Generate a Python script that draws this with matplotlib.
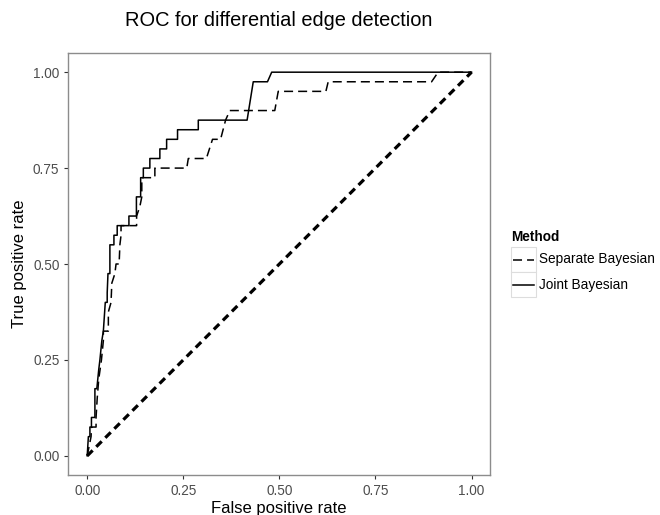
#!/usr/bin/env python3
"""ROC curves for differential edge detection (separate vs joint Bayesian)."""

import matplotlib

matplotlib.use("Agg")
import matplotlib.pyplot as plt
from matplotlib.lines import Line2D
from matplotlib.patches import Rectangle


# Separate Bayesian ROC
separate_fpr = [0, 0.005, 0.01, 0.011, 0.023, 0.023, 0.026, 0.03, 0.037, 0.042, 0.042,
                0.055, 0.055, 0.062, 0.064, 0.072, 0.075, 0.083, 0.085, 0.088, 0.088,
                0.1285, 0.1285, 0.137, 0.142, 0.142, 0.176, 0.176, 0.259, 0.263, 0.31,
                0.326, 0.347, 0.36, 0.371, 0.488, 0.497, 0.621, 0.627, 0.896, 0.913, 1.0]
separate_tpr = [0, 0.025, 0.05, 0.075, 0.075, 0.1, 0.15, 0.2, 0.25, 0.3, 0.325,
                0.325, 0.375, 0.4, 0.45, 0.475, 0.5, 0.5, 0.55, 0.575, 0.6,
                0.6, 0.625, 0.65, 0.675, 0.725, 0.725, 0.75, 0.75, 0.775, 0.775,
                0.825, 0.825, 0.875, 0.9, 0.9, 0.95, 0.95, 0.975, 0.975, 1.0, 1.0]

# Joint Bayesian ROC
joint_fpr = [0, 0.003, 0.007, 0.007, 0.011, 0.011, 0.02, 0.02, 0.025, 0.03, 0.033,
             0.038, 0.042, 0.047, 0.052, 0.052, 0.054, 0.059, 0.059, 0.0695, 0.0695,
             0.078, 0.078, 0.1085, 0.1085, 0.128, 0.128, 0.139, 0.139, 0.146, 0.146,
             0.163, 0.163, 0.189, 0.189, 0.2066, 0.2066, 0.235, 0.235, 0.289, 0.289,
             0.416, 0.432, 0.469, 0.48, 1.0]
joint_tpr = [0, 0.05, 0.05, 0.075, 0.075, 0.1, 0.1, 0.175, 0.175, 0.225, 0.25,
             0.3, 0.325, 0.4, 0.4, 0.425, 0.475, 0.475, 0.55, 0.55, 0.575,
             0.575, 0.6, 0.6, 0.625, 0.625, 0.675, 0.675, 0.725, 0.725, 0.75,
             0.75, 0.775, 0.775, 0.8, 0.8, 0.825, 0.825, 0.85, 0.85, 0.875,
             0.875, 0.975, 0.975, 1.0, 1.0]

chance_x = [0, 1]
chance_y = [0, 1]

ticks = [0.0, 0.25, 0.5, 0.75, 1.0]
tick_labels = ["0.00", "0.25", "0.50", "0.75", "1.00"]
methods = ["Separate Bayesian", "Joint Bayesian"]


def main() -> None:
    plt.rcParams.update(
        {
            "font.family": ["Liberation Sans", "DejaVu Sans"],
            "font.size": 9.6,
            "xtick.direction": "out",
            "ytick.direction": "out",
        }
    )
    W, H = 660, 515
    fig = plt.figure(figsize=(W / 100, H / 100), dpi=100)
    ax = fig.add_axes([68 / W, 1 - 475 / H, 422 / W, 422 / H])

    dash_curve = (0, (5.9, 3.3))
    dash_diag = (0, (2.4, 1.6))

    ax.plot(chance_x, chance_y, color="black", lw=2.3, linestyle=dash_diag,
            solid_capstyle="butt", dash_capstyle="butt")
    ax.plot(separate_fpr, separate_tpr, color="black", lw=1.1, linestyle=dash_curve)
    ax.plot(joint_fpr, joint_tpr, color="black", lw=1.1)

    ax.set_xlim(-0.05, 1.048)
    ax.set_ylim(-0.05, 1.05)
    ax.set_xticks(ticks)
    ax.set_xticklabels(tick_labels)
    ax.set_yticks(ticks)
    ax.set_yticklabels(tick_labels)
    ax.tick_params(length=2.9, width=0.8, color="#333333", labelcolor="#4D4D4D",
                   labelsize=9.8, pad=3.3)
    for s in ax.spines.values():
        s.set_color("#8C8C8C")
        s.set_linewidth(1.0)

    ax.set_xlabel("False positive rate", fontsize=12, labelpad=2.5)
    ax.set_ylabel("True positive rate", fontsize=12, labelpad=4)
    fig.text(279 / W, 1 - 20 / H, "ROC for differential edge detection",
             fontsize=14.4, ha="center", va="center")

    # legend drawn by hand, ggplot style
    fig.text(511 / W, 1 - 237 / H, "Method", fontsize=9.8, fontweight="bold",
             ha="left", va="center")
    styles = [dash_curve, "-"]
    for i, (name, ls) in enumerate(zip(methods, styles)):
        top = 247 + 25 * i
        fig.add_artist(Rectangle((511 / W, 1 - (top + 25) / H), 25 / W, 25 / H,
                                 transform=fig.transFigure, facecolor="white",
                                 edgecolor="#DDDDDD", lw=0.8))
        yc = 1 - (top + 12.5) / H
        fig.add_artist(Line2D([513 / W, 534 / W], [yc, yc], transform=fig.transFigure,
                              color="black", lw=1.1, linestyle=ls))
        fig.text(539 / W, yc, name, fontsize=9.8, ha="left", va="center", color="black")

    fig.savefig("out.png", dpi=100)
    plt.close(fig)


if __name__ == "__main__":
    main()
